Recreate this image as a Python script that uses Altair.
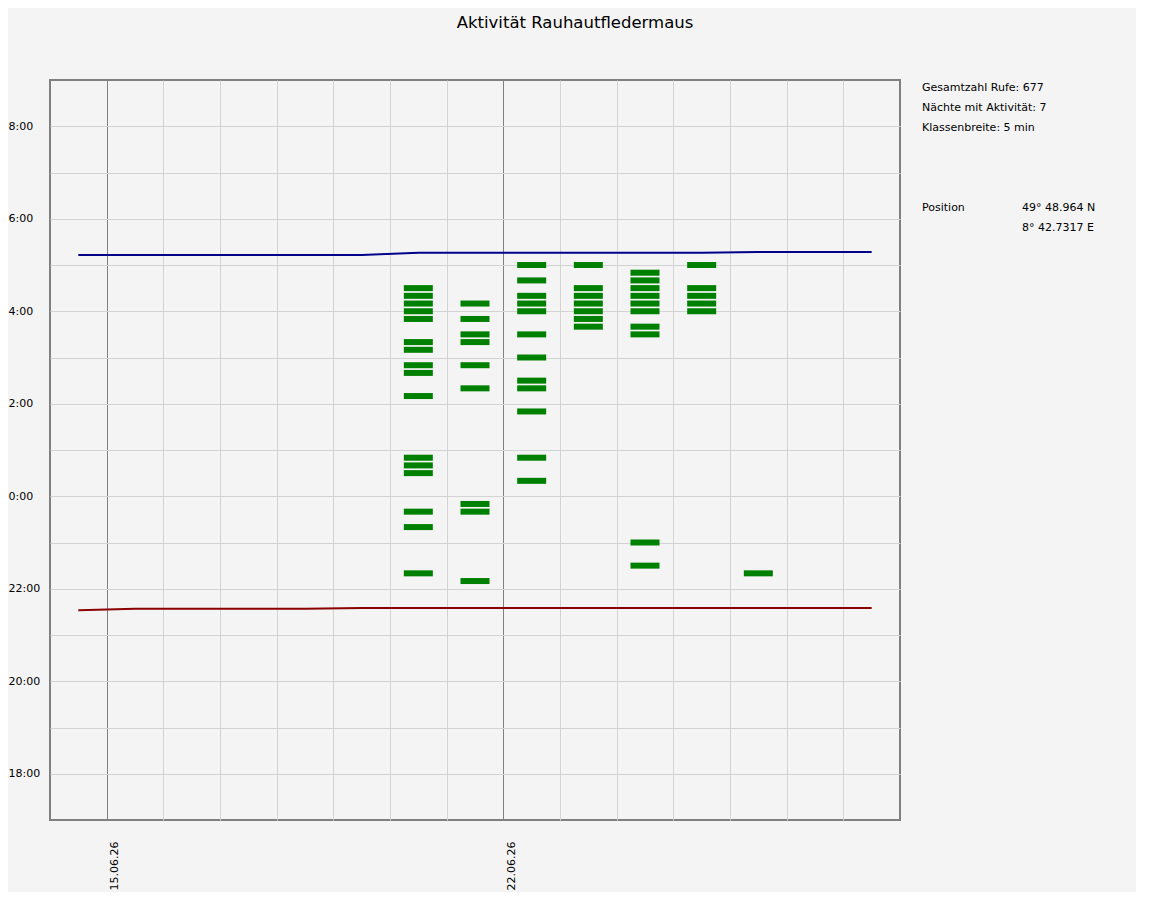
import altair as alt
import pandas as pd

# ---------------- data ----------------
TITLE = "Aktivität Rauhautfledermaus"
INFO_LINES = ["Gesamtzahl Rufe: 677", "Nächte mit Aktivität: 7", "Klassenbreite: 5 min"]
POS_LABEL = "Position"
POS_VALUES = ["49° 48.964 N", "8° 42.7317 E"]

# x axis: days of June 2026
X_DOMAIN = [14, 29]
GRID_DAYS = [15, 16, 17, 18, 19, 20, 21, 22, 23, 24, 25, 26, 27, 28]
LABEL_DAYS = [15, 22]
LABEL_TEXTS = ["15.06.26", "22.06.26"]

# sunrise / sunset per night (June 14 .. 28)
SUN_DAYS = [14, 15, 16, 17, 18, 19, 20, 21, 22, 23, 24, 25, 26, 27, 28]
SUNRISE = ["5:13", "5:13", "5:13", "5:13", "5:13", "5:13", "5:16", "5:16",
           "5:16", "5:16", "5:16", "5:16", "5:17", "5:17", "5:17"]
SUNSET = ["21:32", "21:34", "21:34", "21:34", "21:34", "21:35", "21:35", "21:35",
          "21:35", "21:35", "21:35", "21:35", "21:35", "21:35", "21:35"]

# activity classes (5 min) per night
NIGHT_20 = ["4:30", "4:20", "4:10", "4:00", "3:50", "3:20", "3:10", "2:50", "2:40",
            "2:10", "0:50", "0:40", "0:30", "23:40", "23:20", "22:20"]
NIGHT_21 = ["4:10", "3:50", "3:30", "3:20", "2:50", "2:20", "23:50", "23:40", "22:10"]
NIGHT_22 = ["5:00", "4:40", "4:20", "4:10", "4:00", "3:30", "3:00", "2:30", "2:20",
            "1:50", "0:50", "0:20"]
NIGHT_23 = ["5:00", "4:30", "4:20", "4:10", "4:00", "3:50", "3:40"]
NIGHT_24 = ["4:50", "4:40", "4:30", "4:20", "4:10", "4:00", "3:40", "3:30", "23:00", "22:30"]
NIGHT_25 = ["5:00", "4:30", "4:20", "4:10", "4:00"]
NIGHT_26 = ["22:20"]
NIGHTS = {20: NIGHT_20, 21: NIGHT_21, 22: NIGHT_22, 23: NIGHT_23,
          24: NIGHT_24, 25: NIGHT_25, 26: NIGHT_26}


def to_hours(s):
    h, m = s.split(":")
    v = int(h) + int(m) / 60.0
    return v - 24 if v >= 12 else v


rows = []
for d, times in NIGHTS.items():
    for t in times:
        rows.append({"day": d, "h": to_hours(t)})
df_bars = pd.DataFrame(rows)
df_rise = pd.DataFrame({"day": SUN_DAYS, "h": [to_hours(s) for s in SUNRISE]})
df_set = pd.DataFrame({"day": SUN_DAYS, "h": [to_hours(s) for s in SUNSET]})

# ---------------- styling ----------------
FONT = "DejaVu Sans"
BG = "#f4f4f4"

label_expr = " : ".join(
    f"datum.value == {d} ? '{t}'" for d, t in zip(LABEL_DAYS, LABEL_TEXTS)
) + " : ''"
dark_test = " || ".join(f"datum.value == {d}" for d in LABEL_DAYS)

x_scale = alt.Scale(domain=X_DOMAIN, nice=False, zero=False)
y_scale = alt.Scale(domain=[-7, 9], nice=False, zero=False)

x_axis = alt.Axis(
    title=None, values=GRID_DAYS, labelExpr=label_expr, labelAngle=270,
    labelAlign="right", labelBaseline="top", labelPadding=21, labelOffset=2,
    labelFont=FONT, labelFontSize=11, labelColor="#000000",
    domain=False, ticks=False, grid=True, gridWidth=1,
    gridColor=alt.condition(dark_test, alt.value("#808080"), alt.value("#d3d3d3")),
    labelOverlap=False,
)
y_axis = alt.Axis(
    title=None, values=list(range(-6, 9)),
    labelExpr="datum.value % 2 == 0 ? ((datum.value + 24) % 24) + ':00' : ''",
    labelAlign="left", labelPadding=42,
    labelFont=FONT, labelFontSize=11, labelColor="#000000",
    domain=False, ticks=False, grid=True, gridColor="#d3d3d3", gridWidth=1,
    labelOverlap=False,
)

bars = alt.Chart(df_bars).transform_calculate(
    xc="datum.day + 0.5"
).mark_tick(
    orient="horizontal", size=29, thickness=6, color="#008000", opacity=1
).encode(
    x=alt.X("xc:Q", scale=x_scale, axis=x_axis),
    y=alt.Y("h:Q", scale=y_scale, axis=y_axis),
)

rise = alt.Chart(df_rise).transform_calculate(
    xc="datum.day + 0.5"
).mark_line(color="#00008b", strokeWidth=2, strokeCap="butt").encode(
    x=alt.X("xc:Q", scale=x_scale), y=alt.Y("h:Q", scale=y_scale)
)
sset = alt.Chart(df_set).transform_calculate(
    xc="datum.day + 0.5"
).mark_line(color="#8b0000", strokeWidth=2, strokeCap="butt").encode(
    x=alt.X("xc:Q", scale=x_scale), y=alt.Y("h:Q", scale=y_scale)
)


def text_layer(s, x, y, size=11, align="left"):
    return alt.Chart(pd.DataFrame({"t": [s]})).mark_text(
        font=FONT, fontSize=size, color="#000000", align=align, baseline="middle"
    ).encode(text="t:N", x=alt.value(x), y=alt.value(y))


texts = [text_layer(TITLE, 525, -57, size=16.5, align="center")]
for i, s in enumerate(INFO_LINES):
    texts.append(text_layer(s, 872, 8 + 20 * i))
texts.append(text_layer(POS_LABEL, 872, 128))
for i, s in enumerate(POS_VALUES):
    texts.append(text_layer(s, 972, 128 + 20 * i))

chart = alt.layer(bars, rise, sset, *texts).properties(
    width=850, height=740,
    autosize=alt.AutoSizeParams(type="none"),
    padding={"left": 42, "top": 72, "right": 236, "bottom": 72},
    background=BG,
).configure_view(
    stroke="#808080", strokeWidth=2, fill=BG
)

chart.save("out.html", embed_options={"renderer": "svg", "actions": False})
